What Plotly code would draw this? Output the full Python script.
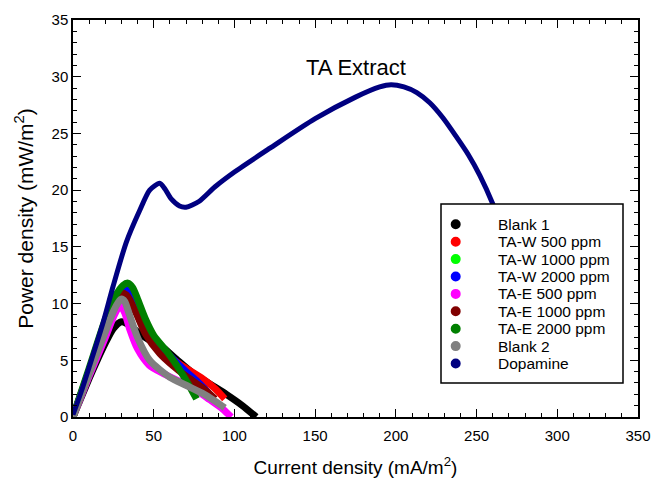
import plotly.graph_objects as go

# ---- data ----
names = ["Blank 1", "TA-W 500 ppm", "TA-W 1000 ppm", "TA-W 2000 ppm",
         "TA-E 500 ppm", "TA-E 1000 ppm", "TA-E 2000 ppm", "Blank 2", "Dopamine"]
colors = ["#000000", "#FF0000", "#00FF00", "#0000FF",
          "#FF00FF", "#800000", "#008000", "#808080", "#000080"]

blank1_x = [0, 5, 10, 15, 20, 25, 30, 35, 40, 47, 55, 64, 74, 85, 95, 105, 113.5]
blank1_y = [0, 1.7, 3.4, 5.0, 6.5, 7.8, 8.4, 8.1, 7.5, 6.8, 6.2, 5.1, 3.9, 2.9, 2.0, 1.0, 0]

taw500_x = [0, 10, 20, 27, 32, 35, 40, 45, 50, 60, 70, 80, 88, 94]
taw500_y = [0, 4.0, 7.9, 10.2, 11.0, 10.6, 9.0, 7.6, 6.6, 5.3, 4.3, 3.4, 2.5, 1.6]

taw1000_x = [0, 10, 20, 28, 33, 36, 41, 46, 50, 60, 70, 78, 86]
taw1000_y = [0, 4.1, 8.3, 10.9, 11.5, 11.1, 9.3, 7.8, 6.9, 5.3, 3.9, 2.9, 1.8]

taw2000_x = [0, 10, 20, 28, 33, 36, 41, 46, 50, 60, 70, 78, 84]
taw2000_y = [0, 4.1, 8.2, 10.7, 11.3, 10.9, 9.1, 7.7, 6.9, 5.4, 4.0, 3.0, 2.1]

tae500_x = [0, 10, 20, 25, 29, 32, 35, 40, 47, 55, 65, 75, 85, 92, 98]
tae500_y = [0, 3.6, 7.0, 8.8, 9.8, 9.2, 7.8, 6.0, 4.6, 3.9, 3.2, 2.5, 1.5, 0.8, 0]

tae1000_x = [0, 10, 20, 26, 31, 34, 39.3, 45, 53.7, 62, 70, 80, 88]
tae1000_y = [0, 4.0, 7.9, 10.0, 10.9, 10.6, 9.1, 7.3, 5.6, 4.5, 3.6, 2.6, 1.6]

tae2000_x = [0, 10, 20, 26, 31, 34, 37, 40, 45, 50, 58, 65, 71, 76.5]
tae2000_y = [0, 4.3, 8.6, 10.6, 11.6, 11.8, 11.4, 10.4, 8.6, 7.2, 5.8, 4.4, 3.0, 1.6]

blank2_x = [0, 10, 20, 25, 28, 30, 32, 35, 40, 47.5, 60, 70, 80, 88, 94]
blank2_y = [0, 3.8, 7.5, 9.3, 10.1, 10.4, 10.2, 9.0, 7.0, 5.0, 3.5, 2.8, 2.1, 1.4, 0.8]

dopa_x = [0, 5, 10, 18.6, 24.8, 33, 41.3, 47.5, 53.7, 57, 61, 66, 70, 78, 88, 100,
          122, 150, 175, 190, 197, 205, 213, 221, 229, 237, 245, 252, 260, 270, 285]
dopa_y = [0.2, 2.2, 4.4, 8.3, 11.5, 15.4, 18.2, 20.0, 20.6, 20.1, 19.2, 18.6,
          18.5, 19.0, 20.3, 21.6, 23.7, 26.3, 28.2, 29.1, 29.3, 29.1, 28.6, 27.7,
          26.4, 24.8, 23.1, 21.3, 18.8, 15.0, 8.0]

series_x = [blank1_x, taw500_x, taw1000_x, taw2000_x, tae500_x, tae1000_x,
            tae2000_x, blank2_x, dopa_x]
series_y = [blank1_y, taw500_y, taw1000_y, taw2000_y, tae500_y, tae1000_y,
            tae2000_y, blank2_y, dopa_y]

x_ticks = [0, 50, 100, 150, 200, 250, 300, 350]
y_ticks = [0, 5, 10, 15, 20, 25, 30, 35]

FONT = "Liberation Sans, Arial, sans-serif"

# ---- layout geometry (screen pixels) ----
W, H = 653, 479
PX0, PX1, PY0, PY1 = 73, 638, 20, 417  # plot area on screen
ML, MT, MR, MB = PX0, PY0, W - PX1, H - PY1
PW, PH = PX1 - PX0, PY1 - PY0


def px_to_paper(px, py):
    return (px - PX0) / PW, (PY1 - py) / PH


fig = go.Figure()
for n, c, xs, ys in zip(names, colors, series_x, series_y):
    fig.add_trace(go.Scatter(
        x=xs, y=ys, mode="lines", name=n,
        line=dict(color=c, width=5 if n == "Dopamine" else 7, shape="spline", smoothing=0.7),
        showlegend=False))

axis_common = dict(
    showline=True, linecolor="black", linewidth=1.5, mirror="ticks",
    ticks="inside", ticklen=8, tickwidth=1.3, tickcolor="black",
    showgrid=False, zeroline=False, automargin=False,
    tickfont=dict(family=FONT, size=15, color="black"),
)

fig.update_xaxes(range=[0, 350], tickvals=x_ticks, ticklabelstandoff=4,
                 minor=dict(dtick=10, ticks="inside", ticklen=4, tickcolor="black", tickwidth=1),
                 title=dict(text="Current density (mA/m<sup>2</sup>)", standoff=18,
                            font=dict(family=FONT, size=19, color="black")),
                 **axis_common)
fig.update_yaxes(range=[0, 35], tickvals=y_ticks,
                 minor=dict(dtick=1, ticks="inside", ticklen=4, tickcolor="black", tickwidth=1),
                 title=dict(text="Power density (mW/m<sup>2</sup>)", standoff=12,
                            font=dict(family=FONT, size=21, color="black")),
                 **axis_common)

# chart label
tx, ty = px_to_paper(356, 67)
fig.add_annotation(text="TA Extract", x=tx, y=ty, xref="paper", yref="paper",
                   showarrow=False, xanchor="center", yanchor="middle",
                   font=dict(family=FONT, size=22, color="black"))

# ---- legend box (shapes + text so the spacing matches the reference) ----
bx0, by0 = px_to_paper(441, 383)
bx1, by1 = px_to_paper(623, 204)
shapes = [dict(type="rect", xref="paper", yref="paper", x0=bx0, y0=by0, x1=bx1, y1=by1,
               fillcolor="white", line=dict(color="black", width=1.5), layer="above")]
row0, row_gap = 224.3, 17.4
for i, (n, c) in enumerate(zip(names, colors)):
    mx, my = px_to_paper(455.7, row0 + i * row_gap)
    shapes.append(dict(type="circle", xref="paper", yref="paper",
                       xsizemode="pixel", ysizemode="pixel", xanchor=mx, yanchor=my,
                       x0=-5, x1=5, y0=-5, y1=5, fillcolor=c, line=dict(color=c, width=0),
                       layer="above"))
    lx, ly = px_to_paper(496, row0 + i * row_gap)
    fig.add_annotation(text=n, x=lx, y=ly, xref="paper", yref="paper",
                       showarrow=False, xanchor="left", yanchor="middle",
                       font=dict(family=FONT, size=15.5, color="black"))

fig.update_layout(
    width=W, height=H,
    margin=dict(l=ML, r=MR, t=MT, b=MB),
    plot_bgcolor="white", paper_bgcolor="white",
    shapes=shapes, showlegend=False,
)

# remove the page's default 8px body margin so the figure fills the window exactly
fig.write_html("out.html",
               config={"displayModeBar": False},
               post_script="document.body.style.margin='0';document.body.style.overflow='hidden';")
